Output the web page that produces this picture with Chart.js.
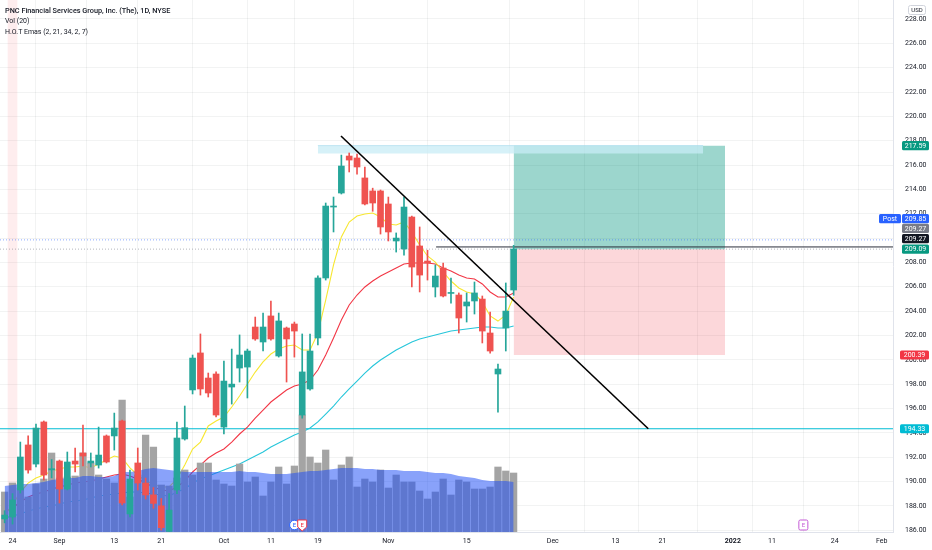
<!DOCTYPE html>
<html><head><meta charset="utf-8">
<script src="https://cdn.jsdelivr.net/npm/chart.js@4.4.0/dist/chart.umd.min.js"></script>
<style>
html,body{margin:0;padding:0;background:#fff;}
#wrap{position:relative;width:932px;height:550px;overflow:hidden;background:#fff;}
canvas{position:absolute;left:0;top:0;}
.lg{position:absolute;left:5px;font-family:Roboto,'Liberation Sans',sans-serif;font-size:7px;color:#131722;white-space:nowrap;line-height:1;}
</style></head><body>
<div id="wrap"><canvas id="c" width="932" height="550"></canvas>
<div class="lg" style="top:7px;font-weight:500;font-size:7.3px">PNC Financial Services Group, Inc. (The), 1D, NYSE</div>
<div class="lg" style="top:18px">Vol (20)</div>
<div class="lg" style="top:29px">H.O.T Emas (2, 21, 34, 2, 7)</div>
</div>
<script>
// ---- data ----
const dates = ['2021-08-23','2021-08-24','2021-08-25','2021-08-26','2021-08-27','2021-08-30','2021-08-31',
 '2021-09-01','2021-09-02','2021-09-03','2021-09-07','2021-09-08','2021-09-09','2021-09-10','2021-09-13','2021-09-14','2021-09-15','2021-09-16','2021-09-17','2021-09-20','2021-09-21','2021-09-22','2021-09-23','2021-09-24','2021-09-27','2021-09-28','2021-09-29','2021-09-30',
 '2021-10-01','2021-10-04','2021-10-05','2021-10-06','2021-10-07','2021-10-08','2021-10-11','2021-10-12','2021-10-13','2021-10-14','2021-10-15','2021-10-18','2021-10-19','2021-10-20','2021-10-21','2021-10-22','2021-10-25','2021-10-26','2021-10-27','2021-10-28','2021-10-29',
 '2021-11-01','2021-11-02','2021-11-03','2021-11-04','2021-11-05','2021-11-08','2021-11-09','2021-11-10','2021-11-11','2021-11-12','2021-11-15','2021-11-16','2021-11-17','2021-11-18','2021-11-19','2021-11-22','2021-11-23'];
const opens = [186.92,187.08,189.30,193.00,191.43,194.89,190.95,191.68,189.38,191.68,192.34,191.52,191.35,193.74,193.74,194.97,187.33,191.52,189.87,188.90,188.00,185.90,189.30,193.49,197.52,200.56,198.50,198.83,194.47,197.76,199.32,199.40,202.69,201.46,203.60,200.31,202.61,202.94,195.46,197.60,201.79,206.72,212.55,213.70,216.74,216.58,214.94,213.87,213.87,212.80,209.76,209.10,211.73,209.35,208.11,205.98,207.54,205.45,205.32,204.42,204.83,204.99,202.20,198.83,202.61,205.73];
const highs = [187.60,189.00,193.24,193.74,194.72,194.97,191.80,191.76,192.42,192.75,194.64,192.34,194.47,193.82,195.62,195.05,190.94,192.75,190.28,189.50,188.60,189.00,194.89,196.20,200.39,202.12,198.91,199.00,199.90,200.88,202.04,200.88,203.51,203.84,204.83,203.84,202.69,203.10,202.12,202.12,206.90,212.88,213.37,216.82,216.99,216.90,215.84,214.10,213.95,213.37,210.42,213.37,211.80,210.91,209.00,207.79,207.95,206.72,205.49,205.49,206.39,205.24,203.92,199.65,206.31,209.40];
const lows = [186.60,186.50,189.05,190.69,191.19,190.12,190.30,188.23,189.30,190.78,191.27,191.19,191.10,191.52,192.58,188.07,187.08,189.30,188.56,187.80,186.00,185.85,189.00,193.40,197.19,197.10,196.94,195.30,193.90,196.36,198.17,196.86,201.60,200.72,201.60,200.22,198.17,200.22,195.20,197.50,201.21,206.55,210.50,213.62,215.43,215.26,212.72,212.20,210.33,209.76,208.85,208.60,205.98,205.57,206.55,205.16,205.16,204.66,202.20,203.10,203.76,201.38,200.55,195.70,200.72,205.30];
const closes = [187.24,188.48,192.01,190.94,194.39,190.53,191.05,189.38,191.60,191.43,192.09,191.68,192.17,191.60,194.39,188.23,190.20,189.87,188.89,188.20,186.20,187.65,193.57,194.42,200.14,197.60,197.27,195.46,198.25,198.00,200.39,200.72,201.71,202.69,201.71,203.19,201.71,202.36,199.00,200.72,206.72,212.63,212.62,215.92,216.41,215.84,212.80,212.88,210.91,210.50,210.00,212.55,207.62,206.96,207.95,206.88,205.24,205.52,203.43,204.75,205.49,202.36,200.72,199.24,204.00,209.10];
// volume, millions
const volumes = [2.00,2.45,2.20,1.75,2.40,2.65,3.95,2.70,2.75,2.80,3.95,3.45,2.85,2.65,2.45,6.60,1.75,2.85,4.85,4.25,2.35,2.30,2.70,3.10,2.85,3.45,3.45,2.60,2.40,2.30,3.40,2.50,2.75,1.80,2.50,3.25,2.40,3.30,5.85,3.75,3.45,4.10,2.60,3.35,3.75,2.25,2.65,2.50,3.10,2.20,2.85,2.50,2.50,2.05,1.65,2.00,2.65,1.85,2.60,2.50,2.15,2.15,2.25,3.25,3.05,2.95];
const volMA20 = [2.30,2.35,2.40,2.40,2.45,2.50,2.60,2.65,2.70,2.70,2.80,2.80,2.75,2.75,2.80,3.00,3.00,3.05,3.15,3.20,3.15,3.10,3.05,3.00,3.00,3.00,3.00,3.00,3.00,3.00,3.05,3.00,3.00,2.95,2.90,2.90,2.90,2.95,3.00,3.05,3.05,3.10,3.15,3.20,3.20,3.20,3.15,3.15,3.10,3.10,3.10,3.05,3.05,3.05,3.00,2.95,2.95,2.90,2.80,2.75,2.70,2.60,2.55,2.55,2.55,2.50];
const emaYellow = [187.24,188.07,189.13,189.87,190.28,190.53,190.86,191.02,191.19,191.19,191.27,191.11,191.43,191.76,192.09,191.93,191.11,190.53,190.04,189.79,189.55,189.55,190.20,191.35,192.67,193.24,194.56,194.97,195.30,196.12,197.02,198.01,198.99,199.82,200.47,200.88,201.13,201.21,200.80,200.80,202.20,204.91,207.79,210.09,211.32,211.81,211.98,212.06,211.73,211.16,211.07,211.32,210.50,209.43,208.53,208.03,207.21,206.47,205.90,205.57,205.40,204.75,203.60,203.18,203.68,205.16];
const emaRed = [187.49,187.82,188.31,188.72,188.97,189.13,189.38,189.55,189.71,189.87,189.96,190.04,190.20,190.37,190.53,190.61,190.45,190.20,189.87,189.55,189.30,189.22,189.55,190.04,190.78,191.35,191.93,192.34,192.67,193.24,193.90,194.47,195.21,195.87,196.53,197.02,197.52,197.84,198.01,198.34,199.16,200.39,201.79,203.27,204.50,205.32,205.98,206.47,206.88,207.21,207.54,207.87,207.95,207.95,207.95,207.87,207.54,207.29,206.96,206.72,206.64,206.23,205.57,205.16,205.16,205.49];
const emaCyan = [187.00,187.16,187.33,187.57,187.74,187.90,187.98,188.15,188.31,188.39,188.48,188.64,188.80,188.89,188.97,189.05,189.13,189.13,189.05,188.97,188.89,188.80,189.13,189.38,189.87,190.20,190.45,190.70,190.94,191.19,191.43,191.76,192.09,192.42,192.83,193.16,193.49,193.82,194.06,194.39,194.89,195.54,196.20,196.94,197.60,198.25,198.91,199.49,199.98,200.39,200.80,201.13,201.46,201.71,201.87,202.03,202.20,202.36,202.45,202.53,202.61,202.69,202.69,202.61,202.61,202.77];
const xTickPos = [0,6,13,19,27,33,39,48,58,69,77,83,92,97,105,111];
const xTickLabels = ['24','Sep','13','21','Oct','11','19','Nov','15','Dec','13','21','2022','11','24','Feb'];
const yTickValues = [186,188,190,192,194,196,198,200,202,204,206,208,210,212,214,216,218,220,222,224,226,228];
// drawings
const positionLevels = [217.59, 209.09, 200.39]; // target, entry, stop
const positionSpan = [64, 91];
const bandLevels = [217.6, 216.95];
const bandSpan = [39, 88.2];
const trendX = [41.95, 81.2];
const trendY = [218.39, 194.33];
const supportLevel = 194.33;
const postLevel = 209.85;
const lastLevel = 209.27;
const rayStart = 54.1;
const earningsIdx = [36, 37, 101];
const dividendStripe = [0];

// ---- chart ----
const FONT = 'Roboto, "Liberation Sans", sans-serif';
const X_MIN = -1.596, X_MAX = 112.45, Y_MIN = 185.848, Y_MAX = 229.561, V_MAX = 26.6;
const GREEN = '#26a69a', RED = '#ef5350';
const idx = dates.map((d, k) => k - 1);
const col = closes.map((c, k) => c >= opens[k] ? GREEN : RED);
const pts = (xs, ys) => xs.map((x, k) => ({x: x, y: ys[k]}));
const seg = (x0, x1, v) => [{x: x0, y: v}, {x: x1, y: v}];
const L = (o) => Object.assign({type: 'line', pointRadius: 0, borderWidth: 1, tension: 0, fill: false}, o);

const datasets = [
  {type: 'bar', data: dividendStripe.map(x => ({x: x, y: [Y_MIN, Y_MAX]})), backgroundColor: 'rgba(242,54,69,0.09)', barThickness: 9, grouped: false, order: 100},
  L({data: seg(positionSpan[0], positionSpan[1], positionLevels[0]), fill: {value: positionLevels[1]}, backgroundColor: 'rgba(8,153,129,0.40)', borderWidth: 0, order: 96}),
  L({data: seg(positionSpan[0], positionSpan[1], positionLevels[2]), fill: {value: positionLevels[1]}, backgroundColor: 'rgba(242,54,69,0.20)', borderWidth: 0, order: 96}),
  L({data: seg(bandSpan[0], bandSpan[1], bandLevels[0]), fill: {value: bandLevels[1]}, backgroundColor: 'rgba(200,236,246,0.75)', borderColor: 'rgba(160,215,235,0.9)', borderWidth: 0.6, order: 95}),
  L({data: seg(X_MIN, X_MAX, supportLevel), borderColor: '#00bcd4', borderWidth: 1.2, order: 90}),
  L({data: seg(X_MIN, X_MAX, postLevel), borderColor: 'rgba(41,98,255,0.55)', borderDash: [1, 2], order: 90}),
  L({data: seg(X_MIN, X_MAX, positionLevels[1]), borderColor: 'rgba(120,123,134,0.55)', borderDash: [1, 2], order: 90}),
  L({data: seg(rayStart, X_MAX, lastLevel), borderColor: '#2a2e39', borderWidth: 1, order: 89}),
  L({data: pts(idx, emaCyan), borderColor: '#26c6da', borderWidth: 1.1, order: 82}),
  L({data: pts(idx, emaRed), borderColor: '#f23645', borderWidth: 1.1, order: 81}),
  L({data: pts(idx, emaYellow), borderColor: '#f7e731', borderWidth: 1.1, order: 80}),
  {type: 'bar', yAxisID: 'yv', data: pts(idx, volumes), backgroundColor: '#a4a4a4', barThickness: 6.6, grouped: false, order: 70},
  L({yAxisID: 'yv', data: pts(idx, volMA20), fill: 'origin', backgroundColor: 'rgba(33,80,245,0.53)', borderWidth: 0, order: 69}),
  {type: 'bar', data: idx.map((x, k) => ({x: x, y: [lows[k], highs[k]]})), backgroundColor: col, barThickness: 1, grouped: false, order: 60},
  {type: 'bar', data: idx.map((x, k) => ({x: x, y: [opens[k], closes[k]]})), backgroundColor: col, barThickness: 6, minBarLength: 1, grouped: false, order: 59},
  L({data: pts(trendX, trendY), borderColor: '#000000', borderWidth: 1.6, order: 1})
];

function rr(c, x, y, w, h, r) {
  c.beginPath(); c.moveTo(x + r, y); c.lineTo(x + w - r, y); c.quadraticCurveTo(x + w, y, x + w, y + r);
  c.lineTo(x + w, y + h - r); c.quadraticCurveTo(x + w, y + h, x + w - r, y + h); c.lineTo(x + r, y + h);
  c.quadraticCurveTo(x, y + h, x, y + h - r); c.lineTo(x, y + r); c.quadraticCurveTo(x, y, x + r, y); c.closePath();
}
const overlay = {
  id: 'overlay',
  afterDraw(chart) {
    const c = chart.ctx, ys = chart.scales.y, xs = chart.scales.x;
    c.save();
    const tag = (yc, text, bg, x0, w) => {
      c.fillStyle = bg; rr(c, x0, yc - 4.6, w, 9.2, 1.5); c.fill();
      c.fillStyle = '#ffffff'; c.font = '7px ' + FONT; c.textAlign = 'center'; c.textBaseline = 'middle';
      c.fillText(text, x0 + w / 2, yc + 0.5);
    };
    const yE = ys.getPixelForValue(positionLevels[1]);
    tag(ys.getPixelForValue(positionLevels[0]), positionLevels[0].toFixed(2), '#089981', 902, 27);
    tag(yE - 30.5, postLevel.toFixed(2), '#2962ff', 902, 27);
    tag(yE - 30.5, 'Post', '#2962ff', 879, 22);
    tag(yE - 20.8, lastLevel.toFixed(2), '#787b86', 902, 27);
    tag(yE - 10.6, lastLevel.toFixed(2), '#131722', 902, 27);
    tag(yE, positionLevels[1].toFixed(2), '#089981', 902, 27);
    tag(ys.getPixelForValue(positionLevels[2]), positionLevels[2].toFixed(2), '#f23645', 900, 29);
    tag(ys.getPixelForValue(supportLevel), supportLevel.toFixed(2), '#00bcd4', 900, 29);
    // USD box
    c.strokeStyle = '#d1d4dc'; c.lineWidth = 1; rr(c, 908.5, 5.5, 17, 9, 2); c.stroke();
    c.fillStyle = '#131722'; c.font = '6px ' + FONT; c.textAlign = 'center'; c.textBaseline = 'middle';
    c.fillText('USD', 917, 10.3);
    // earnings markers
    const yb = chart.chartArea.bottom - 7;
    let x = xs.getPixelForValue(earningsIdx[0]);
    c.beginPath(); c.arc(x, yb, 4.8, 0, Math.PI * 2); c.fillStyle = '#fff'; c.fill(); c.strokeStyle = '#2962ff'; c.lineWidth = 1; c.stroke();
    c.fillStyle = '#2962ff'; c.font = '6px ' + FONT; c.fillText('E', x, yb + 0.4);
    x = xs.getPixelForValue(earningsIdx[1]);
    c.beginPath(); c.moveTo(x - 4.5, yb - 5); c.lineTo(x + 4.5, yb - 5); c.lineTo(x + 4.5, yb + 2); c.lineTo(x, yb + 6); c.lineTo(x - 4.5, yb + 2); c.closePath();
    c.fillStyle = '#fff'; c.fill(); c.strokeStyle = '#f23645'; c.stroke();
    c.fillStyle = '#f23645'; c.fillText('E', x, yb);
    x = xs.getPixelForValue(earningsIdx[2]);
    c.strokeStyle = '#c45bd6'; rr(c, x - 4.5, yb - 5, 9, 10, 1.5); c.fillStyle = '#fff'; c.fill(); c.stroke();
    c.fillStyle = '#c45bd6'; c.fillText('E', x, yb + 0.4);
    c.restore();
  }
};

new Chart(document.getElementById('c'), {
  type: 'bar',
  data: {datasets: datasets},
  plugins: [overlay],
  options: {
    responsive: false, animation: false, devicePixelRatio: 1, events: [],
    layout: {padding: 0},
    plugins: {legend: {display: false}, tooltip: {enabled: false}},
    scales: {
      x: {
        type: 'linear', min: X_MIN, max: X_MAX, offset: false, position: 'bottom',
        afterBuildTicks: s => { s.ticks = xTickPos.map(v => ({value: v})); },
        afterFit: s => { s.height = 18; s.paddingLeft = 0; s.paddingRight = 0; },
        ticks: {autoSkip: false, maxRotation: 0, padding: 5, color: '#131722',
          font: ctx => ({family: FONT, size: 7, weight: (xTickLabels[ctx.index] === '2022') ? 'bold' : 'normal'}),
          callback: (v, i) => xTickLabels[i]},
        grid: {color: 'rgba(42,46,57,0.06)', drawTicks: false},
        border: {color: '#e0e3eb'}
      },
      y: {
        type: 'linear', position: 'right', min: Y_MIN, max: Y_MAX,
        afterBuildTicks: s => { s.ticks = yTickValues.map(v => ({value: v})); },
        afterFit: s => { s.width = 39; s.paddingTop = 0; s.paddingBottom = 0; },
        ticks: {padding: 12, color: '#131722', font: {family: FONT, size: 7}, callback: v => Number(v).toFixed(2)},
        grid: {color: 'rgba(42,46,57,0.06)', drawTicks: false},
        border: {color: '#e0e3eb'}
      },
      yv: {type: 'linear', display: false, min: 0, max: V_MAX}
    }
  }
});
</script></body></html>
